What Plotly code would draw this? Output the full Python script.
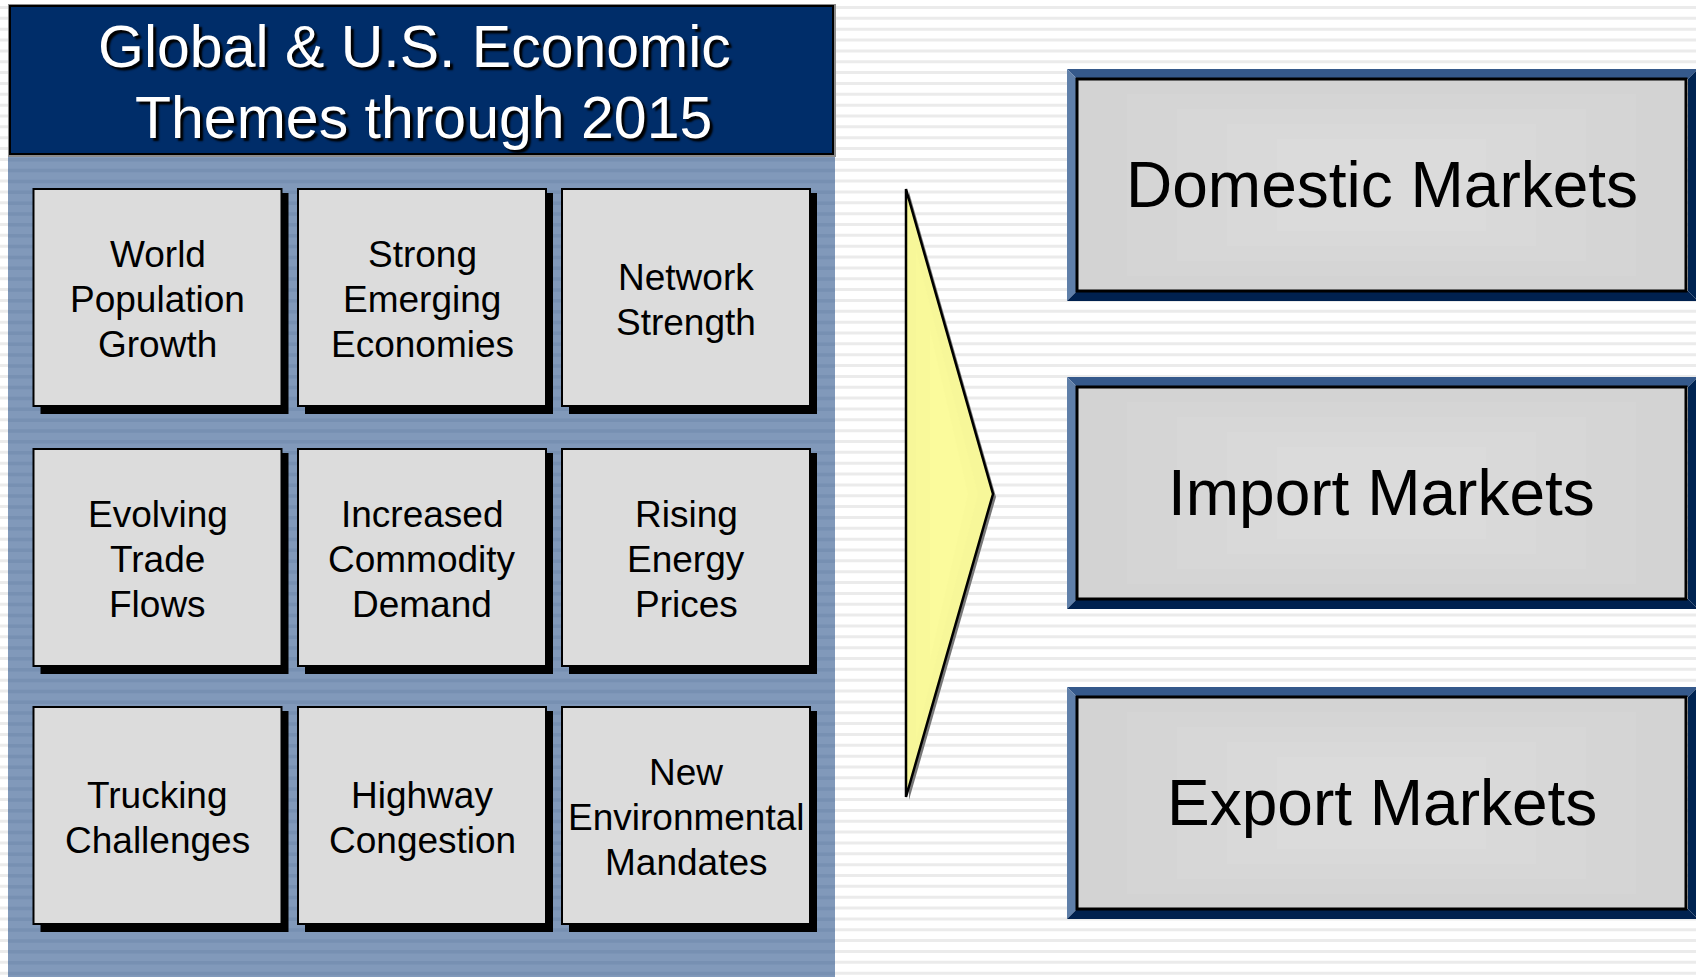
import numpy as np
import plotly.graph_objects as go

# ---------------- data ----------------
title_lines = ["Global & U.S. Economic", "Themes through 2015"]
themes = [
    ["World", "Population", "Growth"],
    ["Strong", "Emerging", "Economies"],
    ["Network", "Strength"],
    ["Evolving", "Trade", "Flows"],
    ["Increased", "Commodity", "Demand"],
    ["Rising", "Energy", "Prices"],
    ["Trucking", "Challenges"],
    ["Highway", "Congestion"],
    ["New", "Environmental", "Mandates"],
]
markets = ["Domestic Markets", "Import Markets", "Export Markets"]

W, H = 1696, 977
FONT = "Liberation Sans, Arial, sans-serif"

shapes = []
annotations = []


def rect(x0, y0, x1, y1, fill, line=None, lw=0, layer="above"):
    shapes.append(dict(type="rect", xref="x", yref="y", x0=x0, y0=y0, x1=x1, y1=y1,
                       fillcolor=fill, line=dict(color=line or fill, width=lw), layer=layer))


def poly(pts, fill, line=None, lw=0):
    d = "M " + " L ".join(f"{x},{y}" for x, y in pts) + " Z"
    shapes.append(dict(type="path", xref="x", yref="y", path=d, fillcolor=fill,
                       line=dict(color=line or fill, width=lw)))


def text(t, x, y, size, color="#000000", shadow=None):
    f = dict(family=FONT, size=size, color=color)
    if shadow:
        f["shadow"] = shadow
    annotations.append(dict(text=t, x=x, y=y, xref="x", yref="y", showarrow=False,
                            xanchor="center", yanchor="middle", font=f))


# background stripes
for yy in np.arange(6, H, 10.85):
    rect(0, yy, W, yy + 3, "#ebebeb")

# left panel
PX0, PX1 = 8, 835
rect(PX0, 6, PX1, H + 2, "#8199ba")
for yy in np.arange(158, H, 10.85):
    rect(PX0, yy, PX1, yy + 3.5, "#7790b2")

# title box
rect(8, 4, 836, 157, "#8c8c8c")
rect(10, 6, 833, 154, "#002d69", "#000000", 2)
title_cx = [414, 423]
title_cy = [47, 117.5]
for t, cx, cy in zip(title_lines, title_cx, title_cy):
    text(t, cx, cy, 59, "#ffffff", shadow="3px 3px 2px #000000")

# theme grid
col_x = [33.5, 298, 562]
row_y = [189, 449, 707]
BW, BH = 248, 217
SH = 7
for i, lines in enumerate(themes):
    r, c = divmod(i, 3)
    x0, y0 = col_x[c], row_y[r]
    rect(x0 + SH, y0 + 4, x0 + BW + SH, y0 + BH + SH + 1, "#000000")
    rect(x0, y0, x0 + BW, y0 + BH, "#dcdcdc", "#000000", 2)
    cy = y0 + BH / 2
    n = len(lines)
    for k, ln in enumerate(lines):
        ly = cy + (k - (n - 1) / 2) * 45
        text(ln, x0 + BW / 2, ly + 2, 37)

# arrow
arrow = [(906, 189), (993, 494), (906, 797)]
poly([(x + 3, y + 3) for x, y in arrow], "#777777")
poly(arrow, "#f7f799", "#000000", 2.5)
poly([(916, 250), (978, 494), (916, 740)], "#f9f99a")
poly([(930, 330), (968, 494), (930, 660)], "#fbfb9c")

# market boxes
MX0, MX1 = 1067, 1698
market_y = [69, 377, 687]
MH = 232
B = 10
for name, y0 in zip(markets, market_y):
    y1 = y0 + MH
    poly([(MX0, y0), (MX1, y0), (MX1 - B, y0 + B), (MX0 + B, y0 + B)], "#35598b")
    poly([(MX0, y0), (MX0 + B, y0 + B), (MX0 + B, y1 - B), (MX0, y1)], "#5f7fa9")
    poly([(MX0, y1), (MX0 + B, y1 - B), (MX1 - B, y1 - B), (MX1, y1)], "#00214f")
    poly([(MX1, y0), (MX1, y1), (MX1 - B, y1 - B), (MX1 - B, y0 + B)], "#002452")
    ix0, iy0, ix1, iy1 = MX0 + B, y0 + B, MX1 - B - 2, y1 - B
    rect(ix0, iy0, ix1, iy1, "#d3d3d3", "#000000", 3)
    for k, g in enumerate(["#d5d5d5", "#d7d7d7", "#d9d9d9", "#dbdbdb"]):
        m = 25 + k * 25
        rect(ix0 + m * 2, iy0 + m * 0.6, ix1 - m * 2, iy1 - m * 0.6, g)
    text(name, (ix0 + ix1) / 2, (y0 + y1) / 2, 64)

fig = go.Figure()
fig.update_layout(
    width=W, height=H, autosize=False,
    margin=dict(l=0, r=0, t=0, b=0, pad=0),
    paper_bgcolor="#ffffff", plot_bgcolor="#ffffff",
    xaxis=dict(range=[0, W], visible=False, fixedrange=True),
    yaxis=dict(range=[H, 0], visible=False, fixedrange=True),
    shapes=shapes, annotations=annotations, showlegend=False,
)
fig.write_html(
    "out.html",
    config={"displayModeBar": False},
    post_script="document.body.style.margin='0px';document.body.style.overflow='hidden';",
)
